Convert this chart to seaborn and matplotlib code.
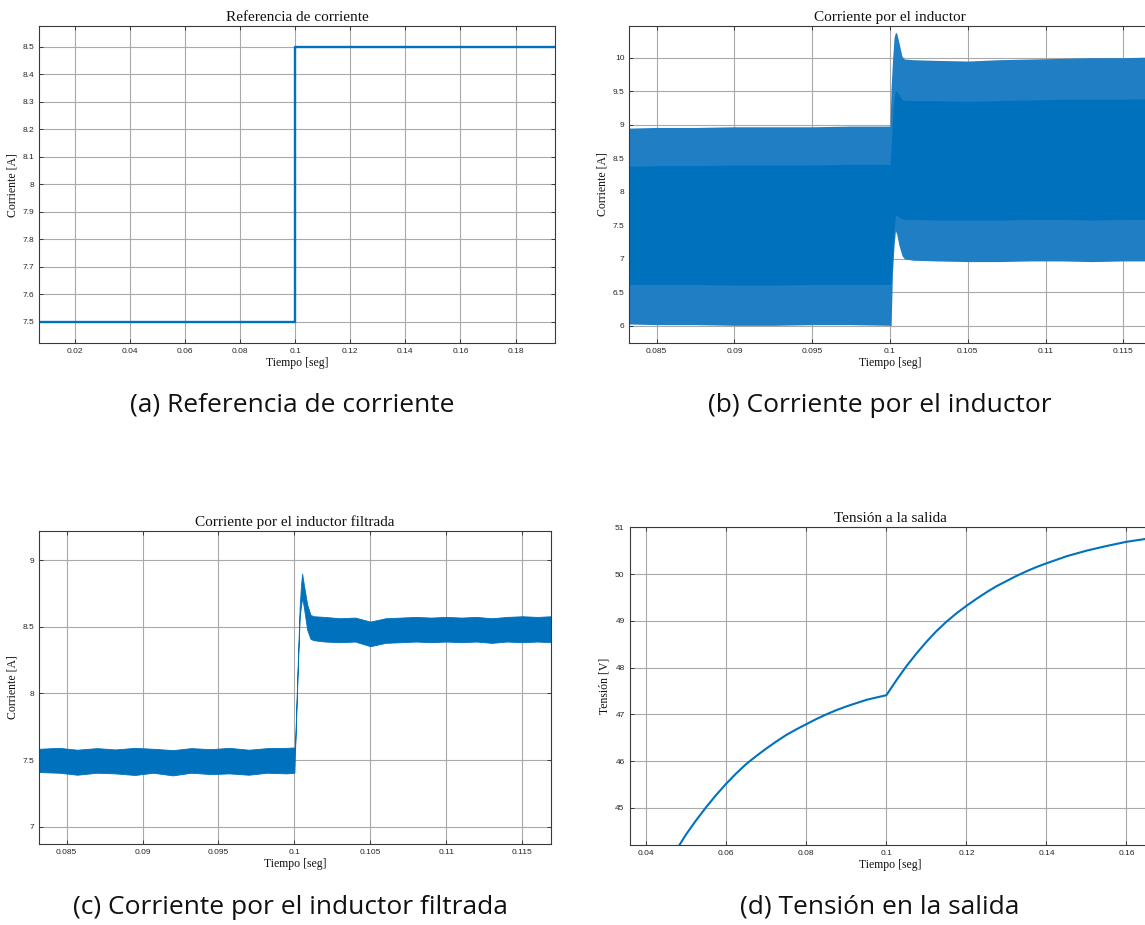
import matplotlib
matplotlib.use("Agg")
import matplotlib.pyplot as plt
import pandas as pd
import seaborn as sns

# ---------------- data ----------------
# (a) current reference step
ref_t = [0.0072, 0.1000, 0.1944]
ref_i = [7.5, 8.5, 8.5]

# (b) inductor current: outer ripple envelope and dense core of the ripple
ind_t = [0.0832, 0.0850, 0.0875, 0.0900, 0.0925, 0.0950, 0.0975, 0.1000,
         0.10007, 0.10016, 0.10026, 0.10035, 0.10044, 0.10058, 0.10077,
         0.10093, 0.1015, 0.1030, 0.1050, 0.1070, 0.1090, 0.1110, 0.1130,
         0.1150, 0.1168]
ind_hi = [8.95, 8.96, 8.96, 8.97, 8.97, 8.97, 8.98, 8.98,
          9.55, 9.95, 10.30, 10.38, 10.36, 10.22, 10.02,
          9.98, 9.97, 9.96, 9.95, 9.97, 9.98, 9.99, 10.00,
          10.00, 10.01]
ind_lo = [6.03, 6.02, 6.02, 6.01, 6.01, 6.02, 6.02, 6.01,
          6.00, 6.80, 7.20, 7.42, 7.36, 7.20, 7.05,
          7.00, 6.98, 6.97, 6.96, 6.96, 6.97, 6.97, 6.96,
          6.97, 6.97]
ind_core_hi = [8.38, 8.39, 8.39, 8.40, 8.40, 8.40, 8.41, 8.41,
               8.65, 9.05, 9.40, 9.50, 9.50, 9.45, 9.38,
               9.36, 9.36, 9.36, 9.35, 9.36, 9.37, 9.38, 9.38,
               9.38, 9.39]
ind_core_lo = [6.62, 6.62, 6.62, 6.61, 6.61, 6.62, 6.62, 6.62,
               6.64, 7.05, 7.45, 7.65, 7.65, 7.62, 7.60,
               7.59, 7.59, 7.58, 7.58, 7.58, 7.59, 7.59, 7.58,
               7.59, 7.59]

# (c) filtered inductor current: ripple envelope
fil_t = [0.0832, 0.0845, 0.0857, 0.0870, 0.0882, 0.0895, 0.0907, 0.0920,
         0.0932, 0.0945, 0.0957, 0.0970, 0.0982, 0.0995, 0.10000,
         0.10003, 0.10022, 0.10035, 0.10044, 0.10051, 0.10062, 0.10084,
         0.10106, 0.10128, 0.1020, 0.1030, 0.1040, 0.1050, 0.1060, 0.1070,
         0.1080, 0.1090, 0.1100, 0.1110, 0.1120, 0.1130, 0.1140, 0.1150,
         0.1160, 0.1169]
fil_hi = [7.585, 7.592, 7.578, 7.590, 7.580, 7.592, 7.585, 7.575,
          7.590, 7.582, 7.592, 7.578, 7.590, 7.592, 7.595,
          7.56, 8.22, 8.66, 8.82, 8.90, 8.82, 8.67,
          8.59, 8.58, 8.575, 8.565, 8.57, 8.54, 8.565, 8.57,
          8.575, 8.57, 8.575, 8.57, 8.575, 8.565, 8.575, 8.58,
          8.575, 8.58]
fil_lo = [7.410, 7.405, 7.390, 7.405, 7.400, 7.388, 7.405, 7.385,
          7.405, 7.395, 7.400, 7.390, 7.405, 7.400, 7.405,
          7.52, 8.17, 8.58, 8.66, 8.72, 8.65, 8.48,
          8.41, 8.40, 8.39, 8.385, 8.39, 8.355, 8.38, 8.385,
          8.39, 8.385, 8.39, 8.385, 8.39, 8.38, 8.39, 8.385,
          8.39, 8.385]

# (d) output voltage
volt_t = [0.0475, 0.0500, 0.0525, 0.0550, 0.0575, 0.0600, 0.0625, 0.0650,
          0.0675, 0.0700, 0.0725, 0.0750, 0.0775, 0.0800, 0.0825, 0.0850,
          0.0875, 0.0900, 0.0925, 0.0950, 0.0975, 0.1000, 0.1025, 0.1050,
          0.1075, 0.1100, 0.1125, 0.1150, 0.1175, 0.1200, 0.1225, 0.1250,
          0.1275, 0.1300, 0.1325, 0.1350, 0.1375, 0.1400, 0.1450, 0.1500,
          0.1550, 0.1600, 0.1670]
volt_v = [44.10, 44.44, 44.74, 45.02, 45.28, 45.52, 45.74, 45.94,
          46.11, 46.27, 46.42, 46.56, 46.68, 46.79, 46.90, 47.00,
          47.09, 47.17, 47.24, 47.31, 47.36, 47.41, 47.73, 48.03,
          48.30, 48.55, 48.78, 48.98, 49.16, 49.32, 49.47, 49.61,
          49.74, 49.85, 49.96, 50.06, 50.15, 50.23, 50.38, 50.50,
          50.60, 50.69, 50.78]

# tick positions and labels
a_xticks = [0.02, 0.04, 0.06, 0.08, 0.10, 0.12, 0.14, 0.16, 0.18]
a_xlabels = ["0.02", "0.04", "0.06", "0.08", "0.1", "0.12", "0.14", "0.16", "0.18"]
a_yticks = [7.5, 7.6, 7.7, 7.8, 7.9, 8.0, 8.1, 8.2, 8.3, 8.4, 8.5]
a_ylabels = ["7.5", "7.6", "7.7", "7.8", "7.9", "8", "8.1", "8.2", "8.3", "8.4", "8.5"]

bc_xticks = [0.085, 0.09, 0.095, 0.1, 0.105, 0.11, 0.115]
bc_xlabels = ["0.085", "0.09", "0.095", "0.1", "0.105", "0.11", "0.115"]
b_yticks = [6, 6.5, 7, 7.5, 8, 8.5, 9, 9.5, 10]
b_ylabels = ["6", "6.5", "7", "7.5", "8", "8.5", "9", "9.5", "10"]
c_yticks = [7, 7.5, 8, 8.5, 9]
c_ylabels = ["7", "7.5", "8", "8.5", "9"]

d_xticks = [0.04, 0.06, 0.08, 0.10, 0.12, 0.14, 0.16]
d_xlabels = ["0.04", "0.06", "0.08", "0.1", "0.12", "0.14", "0.16"]
d_yticks = [45, 46, 47, 48, 49, 50, 51]
d_ylabels = ["45", "46", "47", "48", "49", "50", "51"]

titles = ["Referencia de corriente", "Corriente por el inductor",
          "Corriente por el inductor filtrada", "Tensión a la salida"]
captions = ["(a) Referencia de corriente", "(b) Corriente por el inductor",
            "(c) Corriente por el inductor filtrada", "(d) Tensión en la salida"]

# ---------------- style ----------------
sns.set_theme(style="ticks")
plt.rcParams["font.family"] = ["Liberation Sans", "DejaVu Sans"]

BLUE = "#0072BD"
FRINGE = "#1f7ec4"
GRID = "#a9a9a9"
EDGE = "#3a3a3a"
SERIF = ["Liberation Serif", "DejaVu Serif"]

fig = plt.figure(figsize=(11.45, 9.25), dpi=100)

W, H = 1145.0, 925.0


def make_axes(left, top, right, bottom):
    return fig.add_axes([left / W, 1 - bottom / H, (right - left) / W, (bottom - top) / H])


ax_a = make_axes(39.3, 26.0, 555.3, 343.3)
ax_b = make_axes(629.3, 25.7, 1150.7, 343.3)
ax_c = make_axes(39.3, 531.0, 551.0, 844.0)
ax_d = make_axes(629.5, 527.3, 1150.5, 845.0)


def style_axes(ax, title, ylabel, xt, xl, yt, yl, xlim, ylim):
    ax.set_xlim(*xlim)
    ax.set_ylim(*ylim)
    ax.set_xticks(xt)
    ax.set_xticklabels(xl)
    ax.set_yticks(yt)
    ax.set_yticklabels(yl)
    ax.grid(True, color=GRID, linewidth=0.8)
    ax.set_axisbelow(True)
    for s in ax.spines.values():
        s.set_visible(True)
        s.set_color(EDGE)
        s.set_linewidth(0.8)
    ax.tick_params(direction="in", length=3, width=0.6, top=True, right=True,
                   labelsize=6, pad=3.5, colors="#262626")
    ax.set_title(title, fontsize=11, family=SERIF, pad=3.5, color="#111111")
    ax.set_xlabel("Tiempo [seg]", fontsize=8.5, family=SERIF, labelpad=1.5, color="#111111")
    ax.set_ylabel(ylabel, fontsize=8.5, family=SERIF, labelpad=3, color="#111111")


# (a) reference step
df_a = pd.DataFrame({"t": ref_t, "i": ref_i})
sns.lineplot(data=df_a, x="t", y="i", ax=ax_a, color=BLUE, linewidth=1.7,
             drawstyle="steps-post", estimator=None, sort=False)
style_axes(ax_a, titles[0], "Corriente [A]", a_xticks, a_xlabels, a_yticks, a_ylabels,
           (0.0072, 0.1944), (7.4226, 8.575))

# (b) inductor current ripple band
ax_b.fill_between(ind_t, ind_lo, ind_hi, color=FRINGE, linewidth=0)
ax_b.fill_between(ind_t, ind_core_lo, ind_core_hi, color=BLUE, linewidth=0)
style_axes(ax_b, titles[1], "Corriente [A]", bc_xticks, bc_xlabels, b_yticks, b_ylabels,
           (0.08324, 0.11676), (5.742, 10.477))

# (c) filtered current band
ax_c.fill_between(fil_t, fil_lo, fil_hi, color=BLUE, linewidth=0.6, edgecolor=BLUE)
style_axes(ax_c, titles[2], "Corriente [A]", bc_xticks, bc_xlabels, c_yticks, c_ylabels,
           (0.0832, 0.1169), (6.87, 9.22))

# (d) output voltage
df_d = pd.DataFrame({"t": volt_t, "v": volt_v})
sns.lineplot(data=df_d, x="t", y="v", ax=ax_d, color=BLUE, linewidth=1.5,
             estimator=None, sort=False)
style_axes(ax_d, titles[3], "Tensión [V]", d_xticks, d_xlabels, d_yticks, d_ylabels,
           (0.0358, 0.1660), (44.206, 51.0))

# sub-figure captions
cap_kw = dict(fontsize=19, family=["Open Sans", "DejaVu Sans"], color="#111111",
              ha="center", va="center")
fig.text(292 / W, 1 - 405 / H, captions[0], **cap_kw)
fig.text(880 / W, 1 - 405 / H, captions[1], **cap_kw)
fig.text(290 / W, 1 - 907 / H, captions[2], **cap_kw)
fig.text(880 / W, 1 - 907 / H, captions[3], **cap_kw)

fig.savefig("out.png", dpi=100)
